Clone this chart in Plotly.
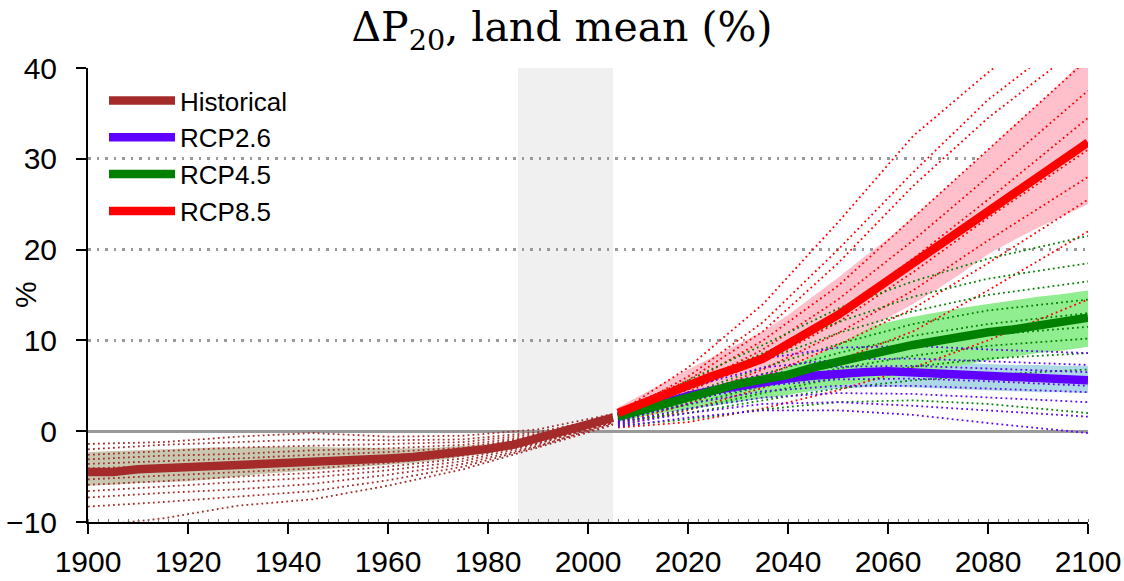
import plotly.graph_objects as go

# ---------------- data ----------------
HIST_YEARS = list(range(1900, 2006, 5))
HIST_MEAN = [-4.5, -4.5, -4.2, -4.1, -3.95, -3.9, -3.8, -3.65, -3.6, -3.45, -3.35,
             -3.15, -3.0, -2.85, -2.6, -2.3, -1.95, -1.5, -0.8, 0.0, 0.8, 1.5]
HIST_UPPER = [-2.3, -2.2, -2.1, -2.0, -1.9, -1.8, -1.8, -1.7, -1.7, -1.7, -1.8,
              -1.8, -1.9, -1.9, -1.8, -1.6, -1.4, -1.0, -0.4, 0.4, 1.1, 1.8]
HIST_LOWER = [-6.0, -5.9, -5.7, -5.6, -5.5, -5.3, -5.0, -4.7, -4.5, -4.3, -4.1,
              -3.9, -3.7, -3.5, -3.2, -2.8, -2.4, -1.9, -1.2, -0.4, 0.4, 1.1]

RCP_YEARS = [2006] + list(range(2010, 2101, 5))
RCP85_MEAN = [2.0, 2.9, 4.0, 5.1, 6.1, 7.0, 8.0, 9.6, 11.1, 12.8, 14.7, 16.6,
              18.5, 20.4, 22.3, 24.2, 26.1, 28.0, 29.8, 31.8]
RCP85_UPPER = [2.6, 3.8, 5.3, 6.8, 8.2, 9.6, 11.0, 12.8, 14.8, 16.9, 19.1, 21.2,
               23.6, 26.0, 28.5, 31.0, 33.6, 36.0, 38.6, 41.5]
RCP85_LOWER = [1.3, 2.0, 2.8, 3.6, 4.3, 5.0, 5.8, 7.0, 8.2, 9.6, 11.0, 12.5,
               14.0, 15.7, 17.5, 19.5, 21.0, 22.4, 23.7, 25.0]
RCP45_MEAN = [1.6, 2.2, 3.1, 3.9, 4.6, 5.2, 5.7, 6.2, 7.0, 7.7, 8.3, 8.9, 9.5,
              10.0, 10.5, 10.9, 11.2, 11.6, 11.9, 12.5]
RCP45_UPPER = [2.2, 3.0, 4.3, 5.5, 6.6, 7.5, 8.3, 9.0, 9.9, 10.7, 11.4, 12.0,
               12.6, 13.1, 13.6, 14.0, 14.4, 14.8, 15.1, 15.5]
RCP45_LOWER = [1.0, 1.5, 2.0, 2.4, 2.8, 3.2, 3.6, 4.0, 4.5, 5.0, 5.4, 5.8, 6.3,
               6.8, 7.3, 7.8, 8.2, 8.6, 8.9, 9.3]
RCP26_MEAN = [1.6, 2.3, 3.1, 3.9, 4.5, 5.0, 5.4, 5.8, 6.1, 6.4, 6.5, 6.6, 6.5,
              6.3, 6.2, 6.0, 5.9, 5.8, 5.7, 5.6]
RCP26_UPPER = [2.1, 3.0, 4.1, 5.1, 5.9, 6.5, 7.0, 7.4, 7.7, 7.9, 8.0, 8.0, 7.9,
               7.7, 7.5, 7.4, 7.3, 7.3, 7.2, 7.2]
RCP26_LOWER = [1.1, 1.6, 2.2, 2.7, 3.1, 3.5, 3.8, 4.1, 4.4, 4.7, 4.8, 4.9, 4.8,
               4.7, 4.6, 4.5, 4.4, 4.3, 4.3, 4.2]

# individual model runs
HIST_MEMBER_YEARS = [1900, 1915, 1930, 1945, 1960, 1975, 1990, 2005]
HIST_MEMBERS = [
    [-1.4, -1.2, -0.6, -0.2, -0.6, -0.5, 0.2, 1.9],
    [-2.0, -1.5, -1.2, -0.9, -1.0, -0.9, -0.1, 1.6],
    [-2.6, -2.2, -1.8, -1.6, -1.4, -1.2, -0.3, 1.4],
    [-3.1, -2.7, -2.5, -2.1, -1.9, -1.5, -0.5, 1.2],
    [-3.6, -3.3, -3.0, -2.6, -2.3, -1.8, -0.6, 1.5],
    [-4.1, -3.8, -3.5, -3.1, -2.7, -2.1, -0.8, 1.1],
    [-4.7, -4.3, -4.0, -3.6, -3.1, -2.4, -1.0, 1.3],
    [-5.3, -4.9, -4.5, -4.1, -3.5, -2.7, -1.1, 1.0],
    [-5.9, -5.5, -5.0, -4.6, -3.9, -3.0, -1.3, 0.9],
    [-6.6, -6.1, -5.6, -5.1, -4.3, -3.3, -1.4, 1.2],
    [-7.3, -6.8, -6.4, -5.8, -4.8, -3.6, -1.6, 0.8],
    [-8.3, -7.8, -7.2, -6.6, -5.4, -3.9, -1.7, 1.0],
    [-10.5, -9.6, -8.2, -7.5, -6.0, -4.2, -1.8, 0.7],
]
RCP_MEMBER_YEARS = [2006, 2020, 2035, 2050, 2065, 2080, 2100]
RCP85_MEMBERS = [
    [2.0, 7.0, 14.0, 23.0, 32.5, 39.5, 48.0],
    [1.8, 6.0, 12.0, 20.0, 28.5, 36.5, 45.0],
    [2.3, 5.6, 11.0, 18.5, 27.0, 34.5, 43.0],
    [1.5, 5.2, 10.0, 16.0, 23.5, 31.0, 41.0],
    [1.7, 4.8, 9.0, 14.5, 21.0, 28.0, 37.5],
    [1.2, 4.3, 8.2, 13.0, 19.0, 25.5, 34.5],
    [1.9, 4.6, 7.6, 12.0, 17.5, 23.5, 31.0],
    [1.0, 3.6, 6.8, 10.8, 15.5, 21.0, 28.0],
    [0.8, 3.0, 6.0, 9.5, 13.5, 18.5, 25.5],
    [0.6, 2.3, 4.8, 7.8, 11.0, 15.5, 22.0],
    [0.4, 1.0, 2.5, 4.5, 7.0, 10.0, 14.5],
]
RCP45_MEMBERS = [
    [1.6, 5.6, 9.5, 13.5, 16.5, 19.0, 21.5],
    [2.0, 5.0, 8.6, 12.0, 14.8, 16.8, 18.5],
    [1.7, 4.6, 7.8, 10.8, 13.2, 15.0, 16.5],
    [1.3, 4.1, 7.0, 9.6, 11.8, 13.3, 14.5],
    [1.5, 3.6, 6.3, 8.6, 10.5, 11.8, 13.0],
    [1.0, 3.2, 5.7, 7.8, 9.4, 10.6, 11.5],
    [1.4, 2.9, 5.0, 6.9, 8.3, 9.4, 10.2],
    [0.8, 2.4, 4.2, 5.9, 7.1, 8.0, 8.6],
    [1.1, 2.0, 3.4, 4.7, 5.6, 6.2, 6.8],
    [0.6, 1.3, 2.4, 3.2, 3.4, 3.0, 2.0],
]
RCP26_MEMBERS = [
    [1.8, 5.4, 8.0, 9.2, 9.4, 9.0, 8.6],
    [1.5, 4.8, 7.0, 7.9, 8.0, 7.7, 7.3],
    [1.3, 4.2, 6.3, 7.1, 7.2, 6.9, 6.5],
    [1.7, 3.9, 5.7, 6.5, 6.5, 6.2, 5.8],
    [1.0, 3.4, 5.0, 5.7, 5.8, 5.5, 5.0],
    [1.2, 3.0, 4.4, 5.0, 5.0, 4.7, 4.3],
    [0.9, 2.5, 3.7, 4.2, 4.1, 3.7, 3.2],
    [0.7, 2.0, 3.0, 3.2, 2.8, 2.3, 1.6],
    [0.5, 1.5, 2.3, 2.3, 1.8, 0.9, -0.2],
]

REF_PERIOD = (1986, 2005)
X_TICKS = list(range(1900, 2101, 20))
Y_TICKS = [-10, 0, 10, 20, 30, 40]

# ---------------- styling ----------------
C_HIST, C_HIST_BAND = "#a52a2a", "rgb(200,200,176)"
C_26, C_26_BAND = "#5f00ff", "#add8e6"
C_45, C_45_BAND = "#008000", "#90ee90"
C_85, C_85_BAND = "#ff0000", "#ffc0cb"
TICK_FONT = dict(family="Liberation Sans, Arial, sans-serif", size=30, color="black")

fig = go.Figure()


def add_band(x, lo, hi, color):
    fig.add_trace(go.Scatter(x=x, y=lo, mode="lines", line=dict(width=0),
                             showlegend=False, hoverinfo="skip"))
    fig.add_trace(go.Scatter(x=x, y=hi, mode="lines", line=dict(width=0),
                             fill="tonexty", fillcolor=color,
                             showlegend=False, hoverinfo="skip"))


def add_members(x, members, color):
    for m in members:
        fig.add_trace(go.Scatter(x=x, y=m, mode="lines",
                                 line=dict(color=color, width=1.8, dash="1.8px,3.2px"),
                                 showlegend=False, hoverinfo="skip"))


add_band(HIST_YEARS, HIST_LOWER, HIST_UPPER, C_HIST_BAND)
add_band(RCP_YEARS, RCP26_LOWER, RCP26_UPPER, C_26_BAND)
add_band(RCP_YEARS, RCP45_LOWER, RCP45_UPPER, C_45_BAND)
add_band(RCP_YEARS, RCP85_LOWER, RCP85_UPPER, C_85_BAND)

add_members(HIST_MEMBER_YEARS, HIST_MEMBERS, C_HIST)
add_members(RCP_MEMBER_YEARS, RCP85_MEMBERS, C_85)
add_members(RCP_MEMBER_YEARS, RCP45_MEMBERS, C_45)
add_members(RCP_MEMBER_YEARS, RCP26_MEMBERS, C_26)

for name, x, y, c in [("Historical", HIST_YEARS, HIST_MEAN, C_HIST),
                      ("RCP2.6", RCP_YEARS, RCP26_MEAN, C_26),
                      ("RCP4.5", RCP_YEARS, RCP45_MEAN, C_45),
                      ("RCP8.5", RCP_YEARS, RCP85_MEAN, C_85)]:
    fig.add_trace(go.Scatter(x=x, y=y, mode="lines", name=name,
                             line=dict(color=c, width=8.5)))

# reference period shading
fig.add_vrect(x0=REF_PERIOD[0], x1=REF_PERIOD[1], fillcolor="#f0f0f0",
              line_width=0, layer="below")

# y-axis unit label, sitting just left of the tick labels
fig.add_annotation(text="%", xref="paper", yref="paper", x=-0.063, y=0.5,
                   xanchor="center", yanchor="middle", textangle=-90,
                   showarrow=False, font=TICK_FONT)

fig.update_layout(
    width=1124, height=581,
    margin=dict(l=88, r=36, t=68, b=59),
    paper_bgcolor="white", plot_bgcolor="white",
    title=dict(text="ΔP<sub>20</sub>, land mean (%)", x=0.5, xanchor="center",
               y=0.954, yanchor="middle",
               font=dict(family="DejaVu Serif, Liberation Serif, serif", size=41,
                         color="black")),
    legend=dict(x=0.016, y=0.98, xanchor="left", yanchor="top",
                traceorder="normal",
                bgcolor="rgba(0,0,0,0)", borderwidth=0, itemwidth=66,
                font=dict(family="Liberation Sans, Arial, sans-serif", size=26,
                          color="black"),
                tracegroupgap=0),
    xaxis=dict(range=[1900, 2100], tickvals=X_TICKS, ticks="outside", ticklen=10,
               tickwidth=2, tickcolor="black", showline=True, linecolor="black",
               linewidth=2, showgrid=False, zeroline=False, tickfont=TICK_FONT,
               ticklabelstandoff=2, automargin=False,
               minor=dict(dtick=2, ticks="inside", ticklen=3, tickcolor="#777",
                          tickwidth=1, showgrid=False)),
    xaxis2=dict(range=[1900, 2100], overlaying="x", side="top", showline=True,
                linecolor="black", linewidth=2, showticklabels=False, ticks="",
                showgrid=False, zeroline=False, tickvals=X_TICKS, automargin=False,
                minor=dict(dtick=2, ticks="inside", ticklen=3, tickcolor="#777",
                           tickwidth=1, showgrid=False)),
    yaxis=dict(range=[-10, 40], tickvals=Y_TICKS, ticks="outside", ticklen=10,
               tickwidth=2, tickcolor="black", showline=True, linecolor="black",
               linewidth=2, showgrid=True, gridcolor="#999", gridwidth=2.5,
               griddash="2.5px,6px", zeroline=True, zerolinecolor="#999",
               zerolinewidth=3, tickfont=TICK_FONT, ticklabelstandoff=13,
               automargin=False),
    yaxis2=dict(range=[-10, 40], overlaying="y", side="right", showline=True,
                linecolor="black", linewidth=4, showticklabels=False, ticks="",
                showgrid=False, zeroline=False, automargin=False),
)

fig.write_html("out.html")
